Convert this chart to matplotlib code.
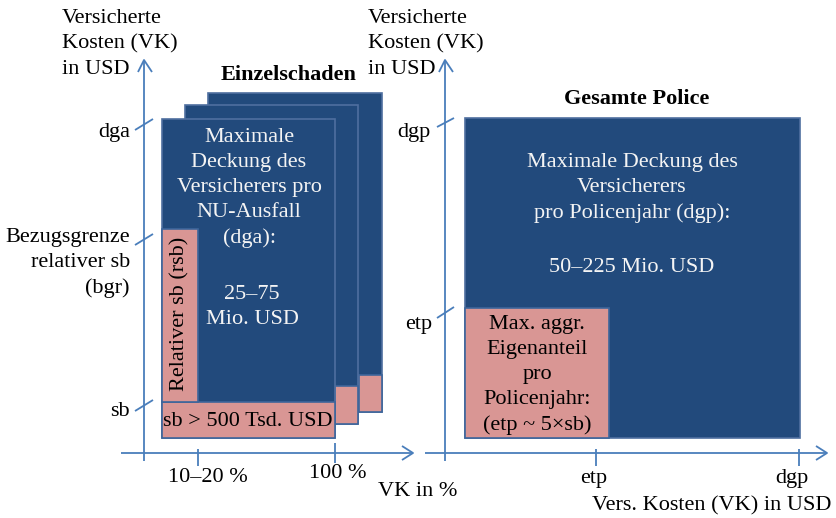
import matplotlib
matplotlib.use("Agg")
import matplotlib.pyplot as plt
from matplotlib.patches import Rectangle

plt.rcParams['font.family'] = ['Liberation Serif', 'DejaVu Serif']

# ---- texts ----
axis_title_y = "Versicherte\nKosten (VK)\nin USD"
left_title = "Einzelschaden"
right_title = "Gesamte Police"
left_yticks = ["dga", "Bezugsgrenze\nrelativer sb\n(bgr)", "sb"]
left_xticks = ["10\u201320 %", "100 %"]
left_xlabel = "VK in %"
right_yticks = ["dgp", "etp"]
right_xticks = ["etp", "dgp"]
right_xlabel = "Vers. Kosten (VK) in USD"
left_box_text = "Maximale\nDeckung des\nVersicherers pro\nNU-Ausfall\n(dga):"
left_box_value = "25\u201375\nMio. USD"
rsb_text = "Relativer sb (rsb)"
sb_text = "sb > 500 Tsd. USD"
right_box_text = "Maximale Deckung des\nVersicherers\npro Policenjahr (dgp):"
right_box_value = "50\u2013225 Mio. USD"
etp_text = "Max. aggr.\nEigenanteil\npro\nPolicenjahr:\n(etp ~ 5\u00d7sb)"

DARK = "#224a7c"
DARK_EDGE = "#4f6f9f"
PINK = "#d99694"
PINK_EDGE = "#3d659b"
AXC = "#4a7ebb"
WHITE = "#f4f4f4"
FS = 16
LS = 1.42

fig = plt.figure(figsize=(8.36, 5.18), dpi=100)
ax = fig.add_axes([0, 0, 1, 1])
ax.set_xlim(0, 836)
ax.set_ylim(518, 0)
ax.axis("off")


def rect(x0, y0, x1, y1, fc, ec, lw=1.2, z=2):
    ax.add_patch(Rectangle((x0, y0), x1 - x0, y1 - y0, facecolor=fc,
                           edgecolor=ec, linewidth=lw, zorder=z))


def line(xs, ys, lw=1.3):
    ax.plot(xs, ys, color=AXC, lw=lw, solid_capstyle="butt", zorder=5)


def txt(x, y, s, ha="center", va="center", color="black", **kw):
    ax.text(x, y, s, ha=ha, va=va, color=color, fontsize=kw.pop("fs", FS),
            linespacing=kw.pop("ls", LS), zorder=10, **kw)


# ---------------- left diagram ----------------
# axes
line([144, 144], [461, 61])
line([138, 144, 152], [72, 60, 72])
line([121, 412], [453, 453])
line([402, 413, 402], [446, 453, 460])
# y ticks (diagonal)
for yb in (130, 245, 411):
    line([135, 153], [yb, yb - 11])
# x ticks
line([198, 198], [449, 466])
line([335, 335], [443, 463])

# stacked boxes (back to front)
rect(208, 93, 382, 412, DARK, DARK_EDGE, z=2)
rect(359, 375, 382, 412, PINK, PINK_EDGE, z=2.1)
rect(185, 105, 358, 424, DARK, DARK_EDGE, z=3)
rect(335, 386, 358, 424, PINK, PINK_EDGE, z=3.1)
rect(162, 119, 335, 438, DARK, DARK_EDGE, z=4)
rect(162, 402, 335, 438, PINK, PINK_EDGE, z=4.1)
rect(162, 229, 198, 402, PINK, PINK_EDGE, z=4.1)

txt(249, 188, left_box_text, color=WHITE)
txt(252, 307, left_box_value, color=WHITE)
txt(180, 314, rsb_text, rotation=90)
txt(248, 421, sb_text)

txt(62, 44, axis_title_y, ha="left")
txt(289, 75, left_title, fontweight="bold")
txt(130, 133, left_yticks[0], ha="right")
txt(130, 263, left_yticks[1], ha="right")
txt(130, 412, left_yticks[2], ha="right")
txt(208, 478, left_xticks[0])
txt(338, 474, left_xticks[1])
txt(418, 492, left_xlabel)

# ---------------- right diagram ----------------
line([445, 445], [461, 61])
line([439, 445, 453], [72, 60, 72])
line([425, 827], [453, 453])
line([816, 827, 816], [446, 453, 460])
line([437, 454], [127, 118])
line([437, 454], [318, 307])
line([596, 596], [449, 466])
line([799, 799], [449, 466])

rect(465, 118, 800, 438, DARK, DARK_EDGE, z=2)
rect(465, 308, 609, 438, PINK, PINK_EDGE, z=3)

txt(632, 188, right_box_text, color=WHITE)
txt(632, 268, right_box_value, color=WHITE)
txt(537, 375, etp_text)

txt(368, 44, axis_title_y, ha="left")
txt(637, 99, right_title, fontweight="bold")
txt(431, 133, right_yticks[0], ha="right")
txt(432, 325, right_yticks[1], ha="right")
txt(594, 478, right_xticks[0])
txt(792, 478, right_xticks[1])
txt(712, 506, right_xlabel)

fig.savefig("out.png", dpi=100)
